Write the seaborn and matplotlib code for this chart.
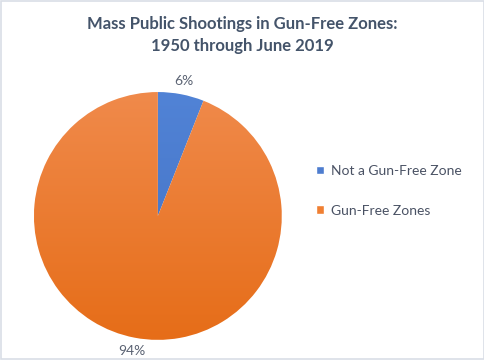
import numpy as np
import matplotlib
matplotlib.use("Agg")
import matplotlib.pyplot as plt
from matplotlib.colors import LinearSegmentedColormap
from matplotlib.patches import Rectangle
import seaborn as sns

# data
labels = ["Not a Gun-Free Zone", "Gun-Free Zones"]
shares = [6, 94]
colors = ["#4E7DCF", "#F07F32"]
title = "Mass Public Shootings in Gun-Free Zones:\n1950 through June 2019"

sns.set_theme(style="white")
plt.rcParams["font.family"] = ["Lato", "DejaVu Sans"]

fig = plt.figure(figsize=(4.85, 3.6), dpi=100)
fig.patch.set_facecolor("white")

# light frame around the whole chart
fig.add_artist(Rectangle((0.003, 0.003), 0.994, 0.994, transform=fig.transFigure,
                         fill=False, edgecolor="#D9DEE6", linewidth=1.2))

ax = fig.add_axes([0.070, 0.0556, 0.511, 0.689])
wedges, texts = ax.pie(shares, colors=colors, startangle=90, counterclock=False,
                       labels=[f"{s}%" for s in shares], labeldistance=1.11,
                       wedgeprops=dict(linewidth=0.6, edgecolor="white"),
                       textprops=dict(color="#5A6272", fontsize=10))
for t in texts:
    t.set_horizontalalignment("center")
    t.set_verticalalignment("center")

# soft vertical shading like the original
orange_cmap = LinearSegmentedColormap.from_list("og", ["#E66D18", "#F08A4B"])
blue_cmap = LinearSegmentedColormap.from_list("bl", ["#4270C2", "#5183D6"])
grad = np.linspace(0, 1, 256).reshape(-1, 1)
for w, cm in zip(wedges, [blue_cmap, orange_cmap]):
    im = ax.imshow(grad, cmap=cm, extent=(-1, 1, -1, 1), origin="lower",
                   aspect="auto", zorder=w.get_zorder() + 0.1)
    im.set_clip_path(w)
    w.set_facecolor("none")
ax.set_xlim(-1, 1)
ax.set_ylim(-1, 1)
ax.set_aspect("equal")

fig.text(0.5, 0.903, title, ha="center", va="center", fontsize=12,
         fontweight="bold", color="#44546A", linespacing=1.45)

handles = [Rectangle((0, 0), 1, 1, facecolor=c) for c in colors]
fig.legend(handles, labels, loc="center left", bbox_to_anchor=(0.625, 0.47),
           frameon=False, fontsize=10, labelcolor="#4A5264",
           handlelength=0.6, handleheight=0.6, handletextpad=0.5,
           labelspacing=2.0)

fig.savefig("out.png", dpi=100)
